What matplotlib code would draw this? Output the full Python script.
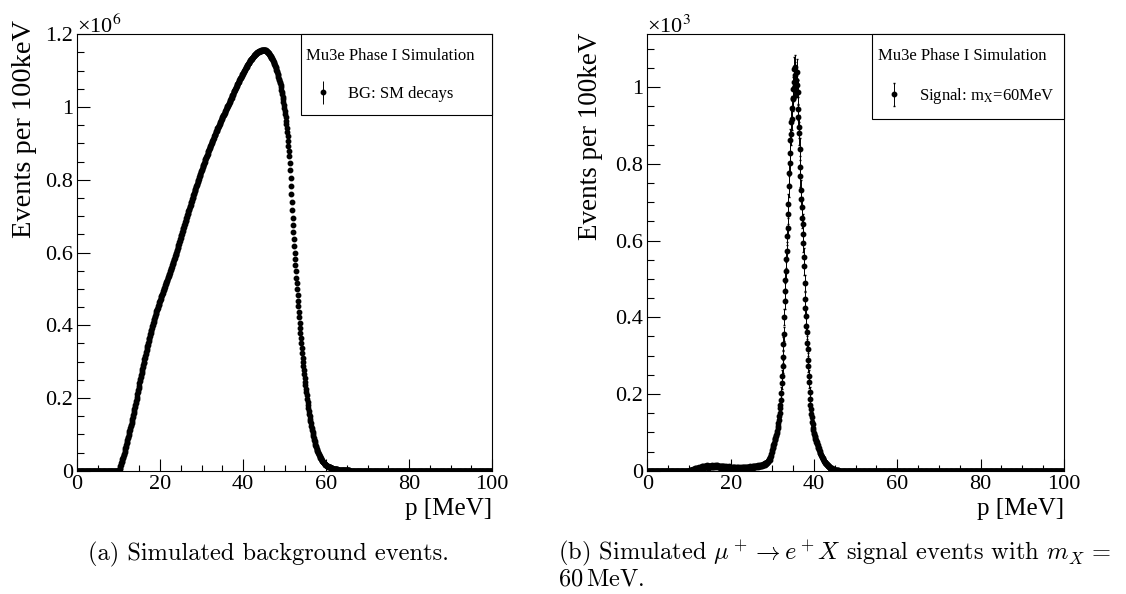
import numpy as np
import matplotlib
matplotlib.use('Agg')
import matplotlib.pyplot as plt
from matplotlib.ticker import MultipleLocator, FuncFormatter
from matplotlib.legend_handler import HandlerErrorbar
from matplotlib.container import ErrorbarContainer

plt.rcParams['font.family'] = 'Liberation Serif'
plt.rcParams['font.size'] = 16

# histograms: 1000 bins of 100 keV from 0 to 100 MeV, empty outside the listed range
bin_width = 0.1
n_bins = 1000

# background (SM decays), counts in units of 1e3, one row per MeV starting at 10 MeV
bg_start = 10.0
bg_k = [
    0, 2, 5, 8, 12, 16, 20, 24, 28, 31,
    35, 39, 43, 47, 52, 57, 62, 66, 71, 75,
    80, 84, 89, 94, 98, 103, 108, 113, 118, 122,
    127, 132, 137, 143, 148, 153, 159, 164, 169, 175,
    180, 186, 192, 198, 204, 210, 216, 222, 228, 234,
    240, 246, 251, 257, 262, 268, 273, 279, 284, 290,
    295, 300, 306, 311, 316, 321, 326, 332, 337, 342,
    347, 352, 356, 361, 366, 370, 375, 379, 384, 388,
    393, 397, 401, 405, 410, 414, 418, 422, 426, 430,
    434, 438, 441, 445, 448, 452, 456, 459, 463, 466,
    470, 473, 477, 480, 483, 487, 490, 493, 497, 500,
    503, 506, 510, 513, 516, 519, 522, 525, 529, 532,
    535, 538, 542, 545, 548, 552, 555, 558, 561, 565,
    568, 572, 575, 579, 582, 586, 590, 593, 597, 600,
    604, 608, 612, 616, 620, 624, 628, 632, 636, 640,
    644, 648, 652, 656, 660, 664, 668, 671, 675, 679,
    683, 687, 690, 694, 698, 702, 705, 709, 713, 716,
    720, 724, 728, 731, 735, 739, 742, 746, 750, 753,
    757, 761, 764, 768, 771, 775, 779, 782, 786, 789,
    793, 796, 800, 803, 807, 810, 813, 817, 820, 824,
    827, 830, 834, 837, 840, 844, 847, 850, 853, 857,
    860, 863, 866, 869, 872, 875, 878, 881, 884, 887,
    890, 893, 896, 899, 902, 905, 907, 910, 913, 916,
    919, 922, 924, 927, 930, 933, 935, 938, 941, 943,
    946, 949, 951, 954, 956, 959, 962, 964, 967, 969,
    972, 974, 977, 979, 982, 984, 987, 989, 992, 994,
    997, 999, 1002, 1004, 1006, 1009, 1011, 1014, 1016, 1019,
    1021, 1024, 1026, 1029, 1032, 1034, 1037, 1040, 1043, 1045,
    1048, 1050, 1053, 1055, 1058, 1060, 1062, 1065, 1067, 1070,
    1072, 1074, 1077, 1079, 1081, 1083, 1085, 1088, 1090, 1092,
    1094, 1096, 1098, 1100, 1102, 1104, 1106, 1109, 1111, 1113,
    1115, 1117, 1119, 1121, 1122, 1124, 1126, 1128, 1129, 1131,
    1133, 1134, 1136, 1137, 1138, 1140, 1141, 1142, 1143, 1145,
    1146, 1147, 1148, 1149, 1150, 1150, 1151, 1152, 1153, 1153,
    1154, 1154, 1155, 1155, 1156, 1156, 1156, 1157, 1157, 1157,
    1157, 1157, 1157, 1156, 1156, 1155, 1154, 1153, 1152, 1151,
    1149, 1148, 1146, 1145, 1143, 1141, 1139, 1138, 1136, 1134,
    1133, 1130, 1127, 1124, 1121, 1118, 1115, 1112, 1109, 1106,
    1103, 1099, 1095, 1091, 1087, 1083, 1078, 1074, 1069, 1065,
    1060, 1054, 1048, 1041, 1035, 1028, 1021, 1014, 1006, 998,
    990, 981, 972, 962, 952, 942, 931, 919, 907, 894,
    880, 864, 846, 826, 805, 783, 761, 739, 717, 696,
    675, 656, 637, 618, 600, 582, 565, 548, 531, 515,
    500, 484, 468, 452, 437, 422, 407, 392, 378, 364,
    350, 337, 324, 311, 299, 287, 276, 265, 255, 245,
    235, 225, 216, 207, 198, 189, 181, 173, 165, 157,
    150, 143, 136, 130, 124, 118, 112, 106, 101, 95,
    90, 85, 81, 76, 72, 68, 64, 61, 58, 55,
    52, 49, 46, 43, 41, 38, 36, 34, 32, 30,
    28, 26, 25, 23, 22, 21, 19, 18, 17, 16,
    15, 14, 13, 13, 12, 11, 11, 10, 10, 9,
    9, 8, 8, 7, 7, 7, 6, 6, 6, 5,
    5, 5, 4, 4, 4, 4, 4, 3, 3, 3,
    3, 3, 3, 2, 2, 2, 2, 2, 2, 2,
    2, 2, 2, 1, 1, 1, 1, 1, 1, 1,
    1, 1, 1, 1, 1, 1, 0, 0, 0, 0,
]

# signal m_X = 60 MeV, counts, one row per MeV starting at 10 MeV
sig_start = 10.0
sig = [
    0, 1, 0, 2, 1, 3, 1, 2, 4, 2,
    3, 5, 2, 4, 6, 3, 5, 7, 4, 6,
    5, 8, 6, 9, 7, 5, 8, 10, 7, 9,
    8, 11, 7, 10, 12, 9, 8, 11, 13, 10,
    12, 9, 11, 14, 10, 12, 8, 13, 11, 10,
    13, 11, 9, 12, 14, 10, 12, 9, 11, 13,
    10, 12, 14, 11, 9, 13, 11, 15, 10, 12,
    11, 9, 13, 10, 12, 8, 11, 10, 13, 9,
    10, 8, 11, 9, 12, 10, 7, 9, 11, 8,
    9, 7, 10, 8, 6, 9, 11, 8, 7, 9,
    8, 6, 9, 7, 10, 8, 6, 9, 7, 8,
    7, 9, 6, 8, 7, 10, 8, 6, 9, 7,
    8, 6, 9, 7, 8, 6, 10, 8, 7, 9,
    7, 9, 8, 6, 10, 8, 9, 7, 10, 8,
    9, 8, 10, 7, 9, 11, 8, 10, 9, 8,
    10, 9, 11, 8, 12, 10, 9, 11, 13, 10,
    12, 10, 13, 11, 9, 12, 14, 11, 13, 12,
    13, 15, 12, 14, 16, 13, 15, 17, 14, 16,
    17, 19, 16, 20, 18, 21, 23, 20, 24, 22,
    25, 27, 30, 28, 33, 36, 39, 43, 50, 53,
    58, 61, 66, 70, 73, 79, 82, 85, 91, 94,
    98, 103, 111, 116, 125, 131, 142, 150, 163, 172,
    184, 203, 228, 246, 272, 297, 331, 356, 401, 443,
    468, 497, 520, 551, 573, 612, 633, 669, 694, 741,
    776, 802, 827, 861, 878, 910, 918, 945, 968, 972,
    995, 1012, 1047, 1003, 1032, 1051, 1018, 1007, 1040, 1006,
    986, 944, 923, 897, 879, 838, 792, 768, 731, 708,
    687, 659, 644, 617, 594, 558, 533, 488, 447, 424,
    403, 378, 361, 333, 316, 289, 273, 247, 231, 204,
    186, 171, 162, 148, 141, 128, 121, 110, 106, 97,
    95, 90, 88, 83, 81, 76, 74, 69, 68, 63,
    60, 58, 53, 52, 47, 46, 42, 41, 37, 36,
    34, 30, 30, 26, 25, 22, 23, 19, 20, 17,
    17, 14, 15, 12, 13, 10, 11, 8, 10, 7,
    7, 5, 7, 4, 5, 3, 4, 2, 3, 3,
    2, 1, 2, 1, 0, 1, 1, 0, 1, 0,
]

x_ticks = [0, 20, 40, 60, 80, 100]
bg_yticks = [0, 0.2e6, 0.4e6, 0.6e6, 0.8e6, 1.0e6, 1.2e6]
sig_yticks = [0, 200, 400, 600, 800, 1000]


def fill_histo(values, start, scale=1.0):
    h = np.zeros(n_bins)
    i0 = int(round(start / bin_width))
    h[i0:i0 + len(values)] = np.array(values, dtype=float) * scale
    return h


centers = (np.arange(n_bins) + 0.5) * bin_width
bg = fill_histo(bg_k, bg_start, 1e3)
signal = fill_histo(sig, sig_start)

fig = plt.figure(figsize=(11.26, 5.94), dpi=100)
ax1 = fig.add_axes([77 / 1126, 123.3 / 594, 415 / 1126, 436.4 / 594])
ax2 = fig.add_axes([647.4 / 1126, 123.3 / 594, 416.5 / 1126, 436.4 / 594])


def style_axes(ax, ymax, yticks, yminor, power, legend_label, eb, ylab_size):
    ax.set_xlim(0, 100)
    ax.set_ylim(0, ymax)
    ax.set_xticks(x_ticks)
    ax.xaxis.set_minor_locator(MultipleLocator(5))
    ax.set_yticks(yticks)
    ax.yaxis.set_minor_locator(MultipleLocator(yminor))
    ax.yaxis.set_major_formatter(FuncFormatter(lambda v, p: f'{v / 10**power:g}'))
    ax.tick_params(which='both', direction='in', top=False, right=False, width=0.8, pad=3)
    ax.tick_params(axis='x', which='major', length=8.6)
    ax.tick_params(axis='x', which='minor', length=4.3)
    ax.tick_params(axis='y', which='major', length=9.5)
    ax.tick_params(axis='y', which='minor', length=5)
    for s in ax.spines.values():
        s.set_linewidth(0.8)
    ax.set_xlabel('p [MeV]', fontsize=18, loc='right')
    ax.xaxis.set_label_coords(1.0, -0.063)
    ax.set_ylabel('Events per 100keV', fontsize=ylab_size, loc='top')
    ax.text(0, 1.003, '×10$^{%d}$' % power, transform=ax.transAxes, fontsize=16,
            ha='left', va='baseline', math_fontfamily='stix')
    leg = ax.legend(handles=[eb], labels=[legend_label], title='Mu3e Phase I Simulation',
                    loc='upper left', bbox_to_anchor=(0.54, 1.0, 0.46, 0.0), mode='expand',
                    borderaxespad=0, fancybox=False, framealpha=1, edgecolor='k',
                    alignment='left', borderpad=0.8, labelspacing=1.35,
                    handlelength=1.0, handletextpad=1.0,
                    prop={'family': 'Liberation Serif', 'size': 12, 'math_fontfamily': 'stix'},
                    title_fontproperties={'family': 'Liberation Serif', 'size': 12},
                    handler_map={ErrorbarContainer: HandlerErrorbar(yerr_size=0.7)})
    leg.get_frame().set_linewidth(0.8)
    # header sits closer to the box edge than the entry
    leg.get_title().set_x(-8)


eb1 = ax1.errorbar(centers, bg, yerr=np.sqrt(bg), fmt='o', ms=3.2, color='k',
                   elinewidth=0.7, capsize=0)
style_axes(ax1, 1.2e6, bg_yticks, 0.05e6, 6, 'BG: SM decays', eb1, 20.5)
ax1.yaxis.set_label_coords(-0.0954, 1.033)

eb2 = ax2.errorbar(centers, signal, yerr=np.sqrt(signal), fmt='o', ms=3.2, color='k',
                   elinewidth=0.7, capsize=1)
style_axes(ax2, 1137.5, sig_yticks, 50, 3, r'Signal: m$_{\mathrm{X}}$=60MeV', eb2, 19.5)
ax2.yaxis.set_label_coords(-0.106, 1.003)

# captions
cap = dict(family='cmr10', fontsize=17.6, va='baseline', math_fontfamily='cm')
fig.text(268.5 / 1126, 1 - 560 / 594, '(a) Simulated background events.', ha='center', **cap)
fig.text(558 / 1126, 1 - 560 / 594,
         r'(b) Simulated $\mu^+ \to e^+X$ signal events with $m_X$ =', ha='left', **cap)
fig.text(558 / 1126, 1 - 586 / 594, r'60$\,$MeV.', ha='left', **cap)

fig.savefig('out.png', dpi=100)
